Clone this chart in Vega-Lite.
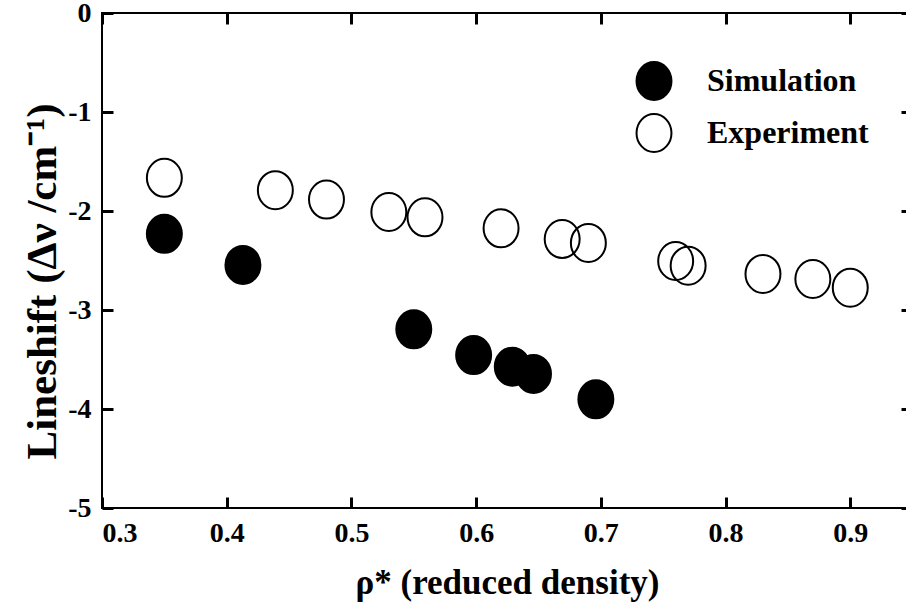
{
  "$schema": "https://vega.github.io/schema/vega-lite/v6.json",
  "width": 805,
  "height": 495,
  "autosize": {"type": "none"},
  "padding": {"left": 102, "top": 13, "right": 0, "bottom": 101},
  "background": "white",
  "config": {
    "view": {"stroke": "black", "strokeWidth": 2},
    "font": "Liberation Serif",
    "axis": {
      "grid": false,
      "domain": false,
      "tickColor": "black",
      "tickWidth": 3,
      "labelFont": "Liberation Serif",
      "labelFontWeight": "bold",
      "labelFontSize": 28,
      "labelColor": "black",
      "titleFont": "Liberation Serif",
      "titleFontWeight": "bold",
      "titleColor": "black"
    }
  },
  "data": {
    "values": [
      {"rho": 0.35, "shift": -2.23, "series": "Simulation"},
      {"rho": 0.413, "shift": -2.545, "series": "Simulation"},
      {"rho": 0.55, "shift": -3.195, "series": "Simulation"},
      {"rho": 0.598, "shift": -3.455, "series": "Simulation"},
      {"rho": 0.629, "shift": -3.572, "series": "Simulation"},
      {"rho": 0.646, "shift": -3.646, "series": "Simulation"},
      {"rho": 0.696, "shift": -3.902, "series": "Simulation"},
      {"rho": 0.35, "shift": -1.665, "series": "Experiment"},
      {"rho": 0.439, "shift": -1.79, "series": "Experiment"},
      {"rho": 0.48, "shift": -1.885, "series": "Experiment"},
      {"rho": 0.53, "shift": -2.01, "series": "Experiment"},
      {"rho": 0.559, "shift": -2.064, "series": "Experiment"},
      {"rho": 0.62, "shift": -2.175, "series": "Experiment"},
      {"rho": 0.669, "shift": -2.283, "series": "Experiment"},
      {"rho": 0.69, "shift": -2.323, "series": "Experiment"},
      {"rho": 0.76, "shift": -2.505, "series": "Experiment"},
      {"rho": 0.77, "shift": -2.552, "series": "Experiment"},
      {"rho": 0.83, "shift": -2.636, "series": "Experiment"},
      {"rho": 0.87, "shift": -2.687, "series": "Experiment"},
      {"rho": 0.9, "shift": -2.775, "series": "Experiment"}
    ]
  },
  "layer": [
    {
      "mark": {
        "type": "point",
        "filled": true,
        "opacity": 1,
        "stroke": "black",
        "strokeWidth": 2,
        "size": 1444,
        "shape": "M 0 -1 C 0.508 -1 0.92 -0.552 0.92 0 C 0.92 0.552 0.508 1 0 1 C -0.508 1 -0.92 0.552 -0.92 0 C -0.92 -0.552 -0.508 -1 0 -1 Z"
      },
      "encoding": {
        "x": {
          "field": "rho", "type": "quantitative",
          "scale": {"domain": [0.3, 0.9455], "nice": false, "zero": false},
          "axis": {
            "orient": "bottom",
            "offset": -11,
            "values": [0.3, 0.4, 0.5, 0.6, 0.7, 0.8, 0.9],
            "format": ".1f",
            "tickSize": 11,
            "labelPadding": 11,
            "title": "ρ* (reduced density)",
            "titleFontSize": 35,
            "titleX": 405,
            "titleY": 96,
            "titleAlign": "center",
            "titleBaseline": "alphabetic"
          }
        },
        "y": {
          "field": "shift", "type": "quantitative",
          "scale": {"domain": [-5, 0], "nice": false, "zero": false},
          "axis": {
            "orient": "left",
            "offset": -11,
            "values": [0, -1, -2, -3, -4, -5],
            "labelExpr": "'' + datum.value",
            "tickSize": 11,
            "labelPadding": 11,
            "title": "Lineshift (Δν /cm⁻¹)",
            "titleFontSize": 43,
            "titleAngle": -90,
            "titleX": -58,
            "titleY": 268,
            "titleAlign": "center",
            "titleBaseline": "alphabetic"
          }
        },
        "fill": {
          "field": "series", "type": "nominal",
          "scale": {"domain": ["Simulation", "Experiment"], "range": ["black", "transparent"]},
          "legend": {
            "orient": "none",
            "legendX": 532,
            "legendY": 48,
            "title": null,
            "padding": 0,
            "symbolType": "M 0 -1 C 0.508 -1 0.92 -0.552 0.92 0 C 0.92 0.552 0.508 1 0 1 C -0.508 1 -0.92 0.552 -0.92 0 C -0.92 -0.552 -0.508 -1 0 -1 Z",
            "symbolSize": 1444,
            "symbolStrokeColor": "black",
            "symbolStrokeWidth": 2,
            "symbolOpacity": 1,
            "labelFont": "Liberation Serif",
            "labelFontWeight": "bold",
            "labelFontSize": 32,
            "labelColor": "black",
            "labelOffset": 33,
            "rowPadding": 6,
            "labelLimit": 400
          }
        }
      }
    },
    {
      "mark": {"type": "point", "opacity": 0},
      "encoding": {
        "x": {
          "field": "rho", "type": "quantitative",
          "axis": {"orient": "top", "offset": -11, "tickSize": 11, "labels": false, "title": null, "values": [0.3, 0.4, 0.5, 0.6, 0.7, 0.8, 0.9]}
        },
        "y": {
          "field": "shift", "type": "quantitative",
          "axis": {"orient": "right", "offset": -6, "tickSize": 6, "labels": false, "title": null, "values": [0, -1, -2, -3, -4, -5]}
        }
      }
    }
  ],
  "resolve": {"axis": {"x": "independent", "y": "independent"}}
}
